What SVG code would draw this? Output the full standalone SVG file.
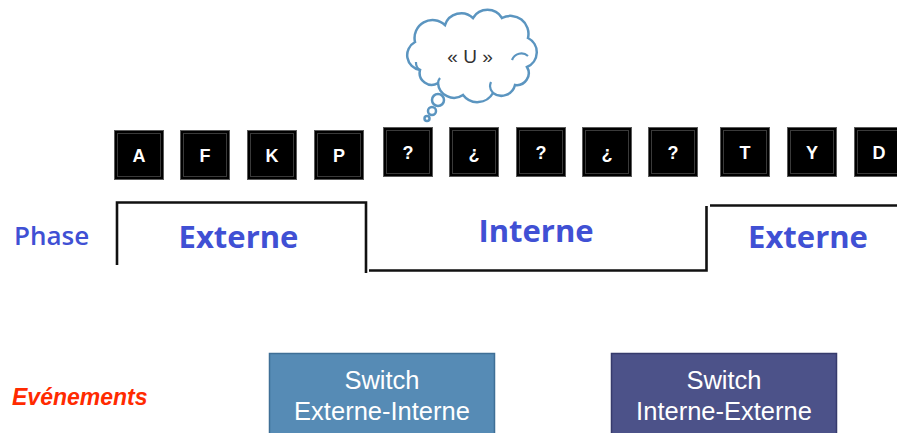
<svg xmlns="http://www.w3.org/2000/svg" width="897" height="433" viewBox="0 0 897 433">
<style>
.key{fill:#000;stroke:#5a5a5a;stroke-width:1}
.keyin{fill:none;stroke:#3a3a3a;stroke-width:1}
.kt{font-family:"Liberation Sans",Arial,sans-serif;font-weight:bold;font-size:18px;fill:#fff;text-anchor:middle}
.ph{font-family:"Open Sans","DejaVu Sans",sans-serif;font-weight:bold;font-size:31px;fill:#4050d4;text-anchor:middle}
.line{fill:none;stroke:#111;stroke-width:2.6}
.sw{font-family:"Liberation Sans",Arial,sans-serif;font-size:25.5px;fill:#fff;text-anchor:middle}
.cloud{fill:#fff;stroke:#5b95c0;stroke-width:2.5}
</style>
<rect width="897" height="433" fill="#fff"/>

<g id="thought-bubble">
<path class="cloud" d="M415,42 A18,18 0 0 1 445,25 A17,17 0 0 1 473,18 A17,17 0 0 1 502,18 A18,18 0 0 1 528,38 A16,16 0 0 1 527,67 A12,12 0 0 1 515,85 A14,14 0 0 1 493,93 A18,18 0 0 1 463,95 A16,16 0 0 1 438,83 A12,12 0 0 1 420,70 A15,15 0 0 1 415,42 Z"/>
<path fill="none" stroke="#5b95c0" stroke-width="2.2" d="M512,60 A10,10 0 0 1 528,56 M420,70 A9,9 0 0 1 416,62 M493,93 A10,10 0 0 1 491,82 M438,83 A9,9 0 0 1 440,78"/>
<circle class="cloud" cx="438" cy="100" r="6"/>
<circle class="cloud" cx="432" cy="111" r="4"/>
<circle class="cloud" cx="427" cy="118.5" r="2.5"/>
<text x="470" y="63" font-family="Liberation Sans,Arial,sans-serif" font-size="19" fill="#333" text-anchor="middle">« U »</text>
</g>

<g id="keys">
<g id="key-A"><rect class="key" x="114.5" y="130.5" width="49" height="49"/><rect class="keyin" x="117.5" y="133.5" width="43" height="43"/><text class="kt" x="139" y="162">A</text></g>
<g id="key-F"><rect class="key" x="180.5" y="130.5" width="49" height="49"/><rect class="keyin" x="183.5" y="133.5" width="43" height="43"/><text class="kt" x="205" y="162">F</text></g>
<g id="key-K"><rect class="key" x="247.5" y="130.5" width="49" height="49"/><rect class="keyin" x="250.5" y="133.5" width="43" height="43"/><text class="kt" x="272" y="162">K</text></g>
<g id="key-P"><rect class="key" x="314.5" y="130.5" width="49" height="49"/><rect class="keyin" x="317.5" y="133.5" width="43" height="43"/><text class="kt" x="339" y="162">P</text></g>
<g id="key-q1"><rect class="key" x="383.5" y="127.5" width="49" height="49"/><rect class="keyin" x="386.5" y="130.5" width="43" height="43"/><text class="kt" x="408" y="159">?</text></g>
<g id="key-iq1"><rect class="key" x="449.5" y="127.5" width="49" height="49"/><rect class="keyin" x="452.5" y="130.5" width="43" height="43"/><text class="kt" x="474" y="159">¿</text></g>
<g id="key-q2"><rect class="key" x="516.5" y="127.5" width="49" height="49"/><rect class="keyin" x="519.5" y="130.5" width="43" height="43"/><text class="kt" x="541" y="159">?</text></g>
<g id="key-iq2"><rect class="key" x="582.5" y="127.5" width="49" height="49"/><rect class="keyin" x="585.5" y="130.5" width="43" height="43"/><text class="kt" x="607" y="159">¿</text></g>
<g id="key-q3"><rect class="key" x="648.5" y="127.5" width="49" height="49"/><rect class="keyin" x="651.5" y="130.5" width="43" height="43"/><text class="kt" x="673" y="159">?</text></g>
<g id="key-T"><rect class="key" x="720.5" y="127.5" width="49" height="49"/><rect class="keyin" x="723.5" y="130.5" width="43" height="43"/><text class="kt" x="745" y="159">T</text></g>
<g id="key-Y"><rect class="key" x="787.5" y="127.5" width="49" height="49"/><rect class="keyin" x="790.5" y="130.5" width="43" height="43"/><text class="kt" x="812" y="159">Y</text></g>
<g id="key-D"><rect class="key" x="854.5" y="127.5" width="49" height="49"/><rect class="keyin" x="857.5" y="130.5" width="43" height="43"/><text class="kt" x="879" y="159">D</text></g>
</g>

<g id="phase-label"><text x="14" y="245" font-family="Open Sans,DejaVu Sans,sans-serif" font-size="26" font-weight="600" fill="#4050d4">Phase</text></g>

<g id="connectors">
<path class="line" d="M117,265 V202.5 H366 V273"/>
<path class="line" d="M369,270.5 H706.5 V206"/>
<path class="line" d="M710,205.5 H897"/>
</g>

<g id="phase-externe-1"><text class="ph" x="238.5" y="248">Externe</text></g>
<g id="phase-interne"><text class="ph" x="536" y="242">Interne</text></g>
<g id="phase-externe-2"><text class="ph" x="808" y="248">Externe</text></g>

<g id="events-label"><text x="12" y="405" font-family="Liberation Sans,Arial,sans-serif" font-size="23" font-style="italic" font-weight="bold" fill="#ff2a00">Evénements</text></g>

<g id="switch-ext-int">
<rect x="269.5" y="353.5" width="225" height="90" fill="#568bb5" stroke="#3f6f96" stroke-width="1.5"/>
<text class="sw" x="382" y="389">Switch</text>
<text class="sw" x="382" y="420">Externe-Interne</text>
</g>
<g id="switch-int-ext">
<rect x="611.5" y="353.5" width="225" height="90" fill="#4c5289" stroke="#363b6c" stroke-width="1.5"/>
<text class="sw" x="724" y="389">Switch</text>
<text class="sw" x="724" y="420">Interne-Externe</text>
</g>
</svg>
